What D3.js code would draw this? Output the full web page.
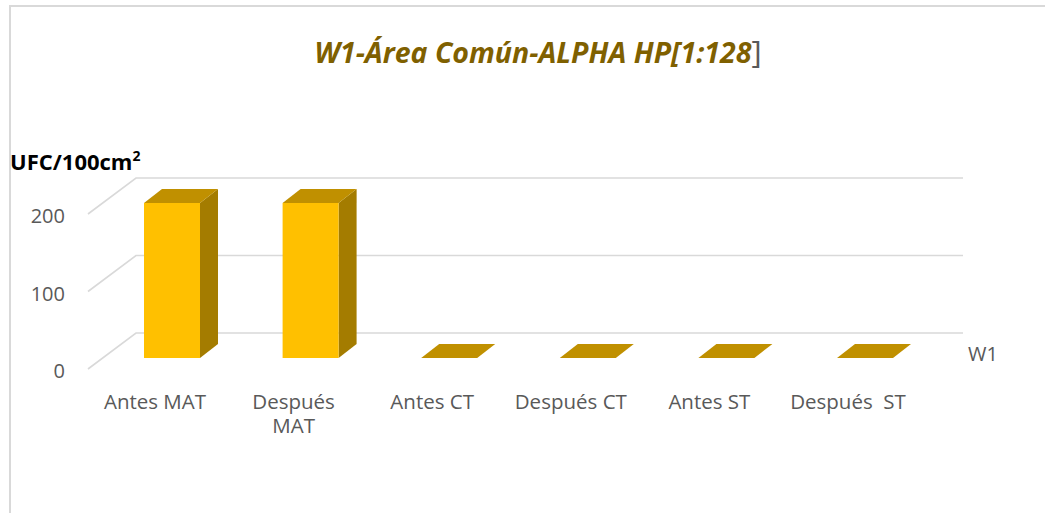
<!DOCTYPE html>
<html>
<head>
<meta charset="utf-8">
<script src="https://cdn.jsdelivr.net/npm/d3@7"></script>
<style>
  html, body { margin: 0; padding: 0; background: #ffffff; }
  svg { display: block; }
  text { font-family: "Open Sans", "Lato", sans-serif; }
</style>
</head>
<body>
<svg id="chart" width="1045" height="513"></svg>
<script>
// ---- data ----
const categories = ["Antes MAT", "Después MAT", "Antes CT", "Después CT", "Antes ST", "Después  ST"];
const tickLabelLines = [["Antes MAT"], ["Después", "MAT"], ["Antes CT"], ["Después CT"], ["Antes ST"], ["Después  ST"]];
const values = [200, 200, 0, 0, 0, 0];
const yTicks = [0, 100, 200];
const seriesName = "W1";
const titleMain = "W1-Área Común-ALPHA HP[1:128";
const titleEnd = "]";
const yAxisTitle = "UFC/100cm";
const yAxisSup = "2";

// ---- layout ----
const svg = d3.select("#chart");
const W = 1045, H = 513;

// chart frame
svg.append("path")
  .attr("d", `M10,${H + 5} L10,6 L${W + 5},6`)
  .attr("fill", "none")
  .attr("stroke", "#D9D9D9")
  .attr("stroke-width", 2);

const y = d3.scaleLinear().domain([0, 200]).range([358, 203]);
const x = d3.scaleBand().domain(categories).range([102.7, 934.3])
  .paddingInner(0.596).paddingOuter(0.298);
const bw = x.bandwidth();

// 3D wall geometry
const wallBackX0 = 136, wallBackX1 = 963, wallFrontX = 88;
const backOff = -25, frontOff = 11;

const grid = svg.append("g").attr("stroke", "#D9D9D9").attr("stroke-width", 1.6).attr("fill", "none");
yTicks.forEach(v => {
  grid.append("path")
    .attr("d", `M${wallFrontX},${y(v) + frontOff} L${wallBackX0},${y(v) + backOff} L${wallBackX1},${y(v) + backOff}`);
});

// y tick labels
svg.append("g").selectAll("text").data(yTicks).join("text")
  .attr("x", 65)
  .attr("y", v => y(v) + frontOff + 9)
  .attr("text-anchor", "end")
  .attr("font-size", 20)
  .attr("fill", "#595959")
  .text(v => v);

// y axis title
const yt = svg.append("text")
  .attr("x", 10).attr("y", 170)
  .attr("font-size", 22).attr("font-weight", "bold").attr("fill", "#000000");
yt.append("tspan").text(yAxisTitle);
yt.append("tspan").attr("font-size", 14).attr("dy", -9).text(yAxisSup);

// title
const tt = svg.append("text")
  .attr("x", 538).attr("y", 63)
  .attr("text-anchor", "middle")
  .attr("font-size", 28.5);
tt.append("tspan").attr("font-weight", "bold").attr("font-style", "italic").attr("fill", "#7F6000").text(titleMain);
tt.append("tspan").attr("font-weight", "normal").attr("font-style", "normal").attr("fill", "#595959").attr("font-size", 31).text(titleEnd);

// bars
const dx = 18, dy = -14;
const colFront = "#FFC000", colTop = "#C09000", colSide = "#A47C00";
const bars = svg.append("g");
categories.forEach((c, i) => {
  const v = values[i];
  const x0 = x(c), yT = y(v), yB = y(0);
  const g = bars.append("g");
  if (v > 0) {
    g.append("polygon")
      .attr("points", [[x0 + bw, yT], [x0 + bw + dx, yT + dy], [x0 + bw + dx, yB + dy], [x0 + bw, yB]].map(p => p.join(",")).join(" "))
      .attr("fill", colSide);
    g.append("rect")
      .attr("x", x0).attr("y", yT).attr("width", bw).attr("height", yB - yT)
      .attr("fill", colFront);
  }
  g.append("polygon")
    .attr("points", [[x0, yT], [x0 + dx, yT + dy], [x0 + bw + dx, yT + dy], [x0 + bw, yT]].map(p => p.join(",")).join(" "))
    .attr("fill", colTop);
});

// category labels
const lab = svg.append("g");
categories.forEach((c, i) => {
  const cx = x(c) + bw / 2 - 17;
  const t = lab.append("text")
    .attr("x", cx).attr("y", 409)
    .attr("text-anchor", "middle")
    .attr("font-size", 20.5)
    .attr("fill", "#595959")
    .style("white-space", "pre");
  tickLabelLines[i].forEach((line, j) => {
    t.append("tspan").attr("x", cx).attr("dy", j === 0 ? 0 : 24).text(line);
  });
});

// series label
svg.append("text")
  .attr("x", 968).attr("y", 361)
  .attr("font-size", 20)
  .attr("fill", "#595959")
  .text(seriesName);
</script>
</body>
</html>
